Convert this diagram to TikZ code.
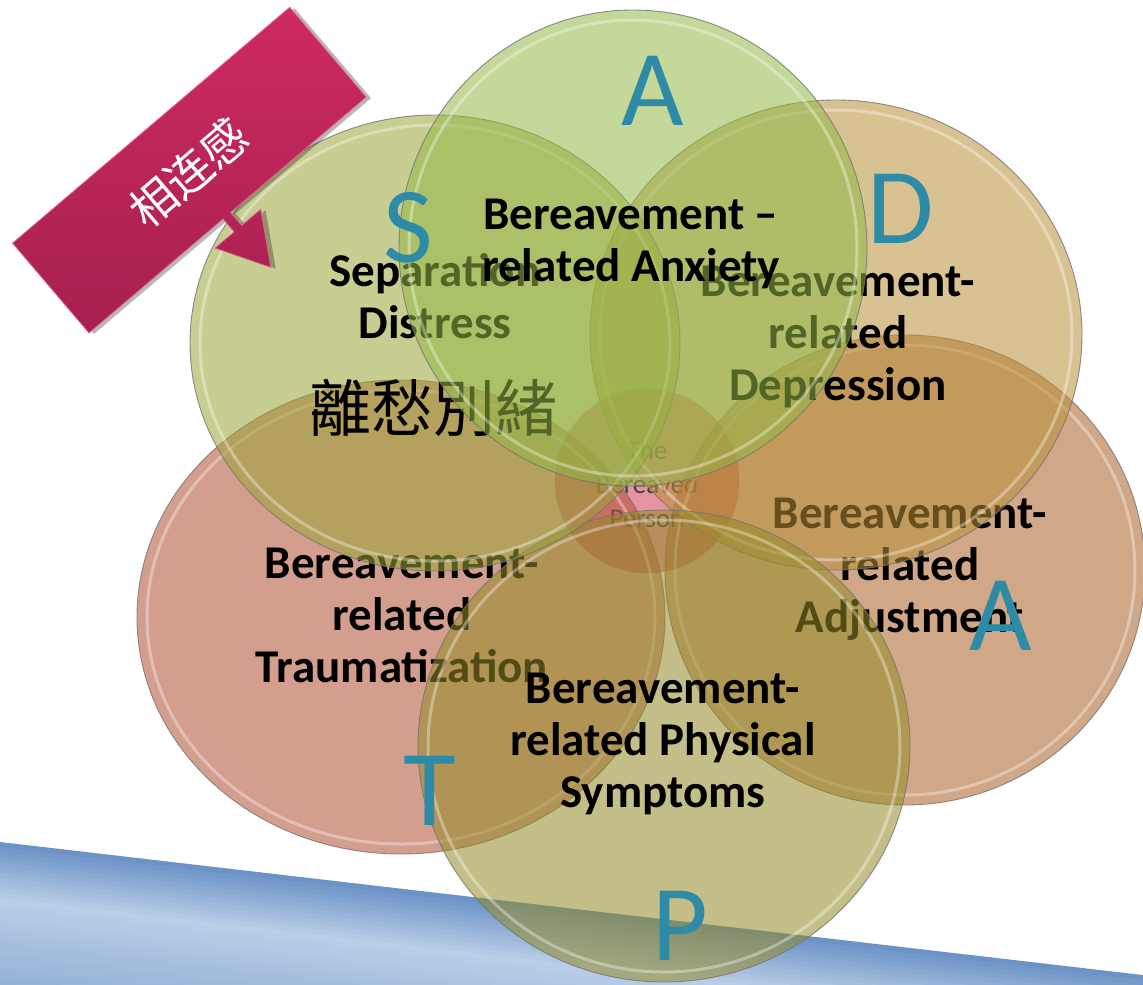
\documentclass[tikz,border=0pt]{standalone}
\usepackage{fontspec}
\setmainfont{Carlito}
\newfontfamily\cjktc{Noto Sans CJK TC}
\newfontfamily\cjksc{Noto Sans CJK SC}
\definecolor{anxC}{RGB}{146,184,71}
\definecolor{sepC}{RGB}{155,164,55}
\definecolor{depC}{RGB}{184,144,55}
\definecolor{adjC}{RGB}{170,97,39}
\definecolor{traC}{RGB}{175,80,50}
\definecolor{phyC}{RGB}{148,139,39}
\definecolor{cenC}{RGB}{215,75,100}
\definecolor{letterC}{RGB}{46,139,168}
\definecolor{bandDark}{RGB}{108,147,198}
\definecolor{bandLight}{RGB}{186,206,231}
\definecolor{arrowA}{RGB}{206,42,98}
\definecolor{arrowB}{RGB}{166,32,80}
\newcommand\vennblob[5]{%
  \fill[#5, fill opacity=0.55] (#1,#2) ellipse [x radius=#3, y radius=#4];
  \draw[white, line width=3pt, draw opacity=0.35] (#1,#2) ellipse [x radius=#3-10, y radius=#4-10];
  \draw[black!55, line width=0.9pt, draw opacity=0.8] (#1,#2) ellipse [x radius=#3, y radius=#4];
}
\begin{document}
\begin{tikzpicture}[x=1pt,y=-1pt,
  lbl/.style={font=\fontsize{47}{52}\selectfont\bfseries, align=center, text=black, inner sep=0pt},
  ltr/.style={font=\fontsize{108}{108}\selectfont, text=letterC, anchor=base, inner sep=0pt}]
\useasboundingbox (0,0) rectangle (1143,985);
\clip (0,0) rectangle (1143,985);
\fill[white] (0,0) rectangle (1143,985);
% blue band, built from thin strips parallel to its upper edge
\begin{scope}[shift={(0,842)}, rotate=-6.64]
  \foreach \i in {0,...,39}{
    \pgfmathsetmacro\d{\i*5}
    \pgfmathsetmacro\p{\d<55 ? 100-\d/55*100 : min(85,(\d-55)/145*85)}
    \fill[bandDark!\p!bandLight] (-60,\d) rectangle (1300,\d+5.6);
  }
\end{scope}
% centre
\fill[cenC, fill opacity=0.6] (647,481) circle [radius=92];
\draw[black!40, line width=0.6pt, draw opacity=0.6] (647,481) circle [radius=92];
\node[font=\fontsize{27}{34}\selectfont, align=center, text=black!75] (person) at (647,484) {The\\Bereaved\\Person};
% adjustment
\vennblob{905}{570}{240}{235}{adjC}
\node[lbl] (adj) at (910,569) {Bereavement-\\related\\Adjustment};
% depression
\vennblob{836}{335}{246}{235}{depC}
\node[lbl] (dep) at (838,337) {Bereavement-\\related\\Depression};
% traumatization
\vennblob{401}{617}{264}{237}{traC}
\node[lbl] (tra) at (402,615) {Bereavement-\\related\\Traumatization};
% physical
\vennblob{664}{746}{246}{236}{phyC}
\node[lbl] (phy) at (663,744) {Bereavement-\\related Physical\\Symptoms};
% separation
\vennblob{435}{343}{245}{228}{sepC}
\node[lbl] (sep) at (435,296) {Separation\\Distress};
\node[font=\cjktc\fontsize{62}{62}\selectfont, text=black, inner sep=0pt] (lichou) at (433,408) {離愁別緒};
% anxiety
\vennblob{633}{248}{234}{238}{anxC}
\node[lbl] (anx) at (631,244) {Bereavement –\\related Anxiety};
% letters
\node[ltr] (la1) at (653,125) {A};
\node[ltr] (ld) at (901,243) {D};
\node[ltr] (ls) at (408,262) {S};
\node[ltr] (la2) at (1001,650) {A};
\node[ltr] (lt) at (430,825) {T};
\node[ltr] (lp) at (680,960) {P};
% callout arrow
\begin{scope}[shift={(89,333)}, rotate=40.4]
  \fill[black, opacity=0.28, shift={(3,4)}] (0,0) -- (176,0) -- (176,17) -- (151,17) -- (181,68) -- (211,17) -- (186,17) -- (186,0) -- (364,0) -- (364,-118) -- (0,-118) -- cycle;
  \shade[top color=arrowA, bottom color=arrowB, draw=arrowA!70!white, line width=0.8pt] (0,0) -- (176,0) -- (176,17) -- (151,17) -- (181,68) -- (211,17) -- (186,17) -- (186,0) -- (364,0) -- (364,-118) -- (0,-118) -- cycle;
  \node[transform shape, font=\cjksc\fontsize{46}{46}\selectfont, text=white] (lianjie) at (180,-57) {相连感};
\end{scope}
\end{tikzpicture}
\end{document}
